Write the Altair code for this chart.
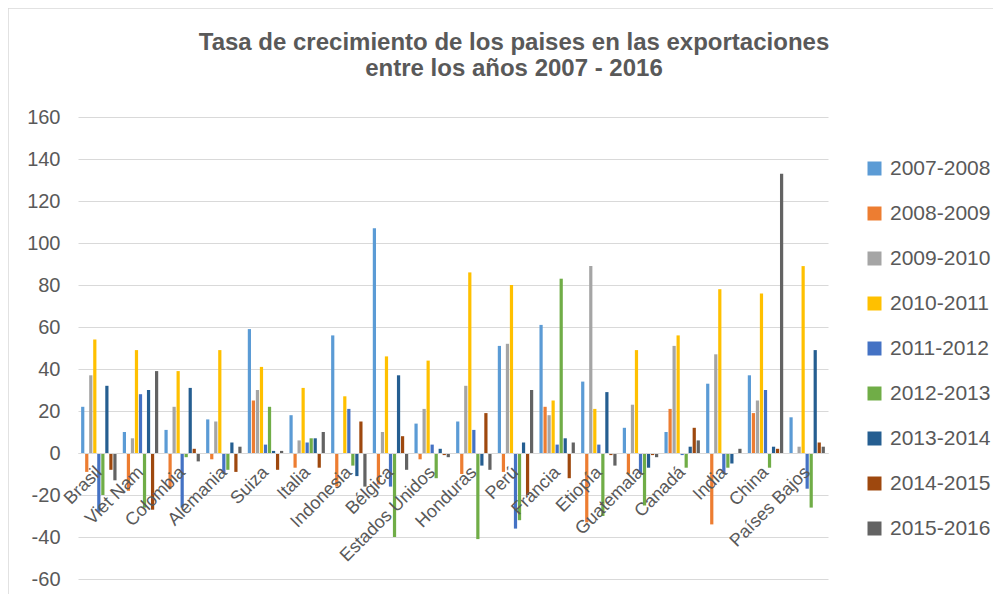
import altair as alt
import pandas as pd

countries = ["Brasil", "Viet Nam", "Colombia", "Alemania", "Suiza", "Italia", "Indonesia",
             "Bélgica", "Estados Unidos", "Honduras", "Perú", "Francia", "Etiopía",
             "Guatemala", "Canadá", "India", "China", "Países Bajos"]
series = ["2007-2008", "2008-2009", "2009-2010", "2010-2011", "2011-2012",
          "2012-2013", "2013-2014", "2014-2015", "2015-2016"]
colors = ["#5B9BD5", "#ED7D31", "#A5A5A5", "#FFC000", "#4472C4",
          "#70AD47", "#255E91", "#9E480E", "#636363"]

v2007_2008 = [22, 10, 11, 16, 59, 18, 56, 107, 14, 15, 51, 61, 34, 12, 10, 33, 37, 17]
v2008_2009 = [-9, -18, -17, -3, 25, -7, -16, -15, -3, -10, -9, 22, -33, -10, 21, -34, 19, 0]
v2009_2010 = [37, 7, 22, 15, 30, 6, -0.5, 10, 21, 32, 52, 18, 89, 23, 51, 47, 25, 3]
v2010_2011 = [54, 49, 39, 49, 41, 31, 27, 46, 44, 86, 80, 25, 21, 49, 56, 78, 76, 89]
v2011_2012 = [-28, 28, -26, -10, 4, 5, 21, -16, 4, 11, -36, 4, 4, -10, -1, -10, 30, -17]
v2012_2013 = [-20, -26, -2, -8, 22, 7, -6, -40, -12, -41, -32, 83, -30, -25, -7, -7, -7, -26]
v2013_2014 = [32, 30, 31, 5, 1, 7, -11, 37, 2, -6, 5, 7, 29, -7, 3, -5, 3, 49]
v2014_2015 = [-8, -27, 2, -9, -8, -7, 15, 8, -1, 19, -20, -12, -1, -1, 12, 0, 2, 5]
v2015_2016 = [-13, 39, -4, 3, 1, 10, -16, -8, -2, -8, 30, 5, -6, -2, 6, 2, 133, 3]

all_values = [v2007_2008, v2008_2009, v2009_2010, v2010_2011, v2011_2012,
              v2012_2013, v2013_2014, v2014_2015, v2015_2016]

rows = []
for s, vals in zip(series, all_values):
    for c, v in zip(countries, vals):
        rows.append({"pais": c, "periodo": s, "valor": v})
df = pd.DataFrame(rows)

font = "Liberation Sans"
txt = "#595959"
grid = "#d9d9d9"

bars = alt.Chart(df).mark_bar().encode(
    x=alt.X("pais:N", sort=countries,
            scale=alt.Scale(paddingInner=0.15, paddingOuter=0.075),
            axis=alt.Axis(title=None, labelAngle=-45, offset=-126, domainColor=grid,
                          domainWidth=1, ticks=False, grid=False, labelFont=font,
                          labelFontSize=18, labelColor=txt, labelPadding=10,
                          labelOffset=-6, labelOverlap=False, labelLimit=300,
                          zindex=1)),
    xOffset=alt.XOffset("periodo:N", sort=series, scale=alt.Scale(paddingInner=0.2)),
    y=alt.Y("valor:Q", scale=alt.Scale(domain=[-60, 160], nice=False),
            axis=alt.Axis(title=None, values=list(range(-60, 161, 20)), domain=False,
                          ticks=False, gridColor=grid, gridWidth=1, labelFont=font,
                          labelFontSize=20, labelColor=txt, labelPadding=18,
                          labelExpr="datum.value + ''")),
    color=alt.Color("periodo:N", sort=series,
                    scale=alt.Scale(domain=series, range=colors),
                    legend=alt.Legend(title=None, orient="none", legendX=786, legendY=41,
                                      symbolType="square", symbolSize=196,
                                      symbolStrokeWidth=0, labelFont=font,
                                      labelFontSize=21, labelColor=txt,
                                      rowPadding=23, labelOffset=5)),
)

border = alt.Chart(alt.Data(values=[{"k": 1}])).mark_rect(
    filled=False, stroke=grid, strokeWidth=1.5
).encode(
    x=alt.value(-70), y=alt.value(-109), x2=alt.value(1100), y2=alt.value(700)
)

chart = alt.layer(border, bars).properties(
    width=750, height=462,
    background="white",
    autosize=alt.AutoSizeParams(type="none"),
    padding={"left": 70, "top": 109, "right": 165, "bottom": 15},
    title=alt.TitleParams(
        text=["Tasa de crecimiento de los paises en las exportaciones",
              "entre los años 2007 - 2016"],
        font=font, fontSize=24, fontWeight="bold", color=txt, frame="group",
        anchor="middle", dx=61, offset=-74, lineHeight=26),
).configure_view(strokeWidth=0)

chart.save("out.html", embed_options={"renderer": "svg", "actions": False})
